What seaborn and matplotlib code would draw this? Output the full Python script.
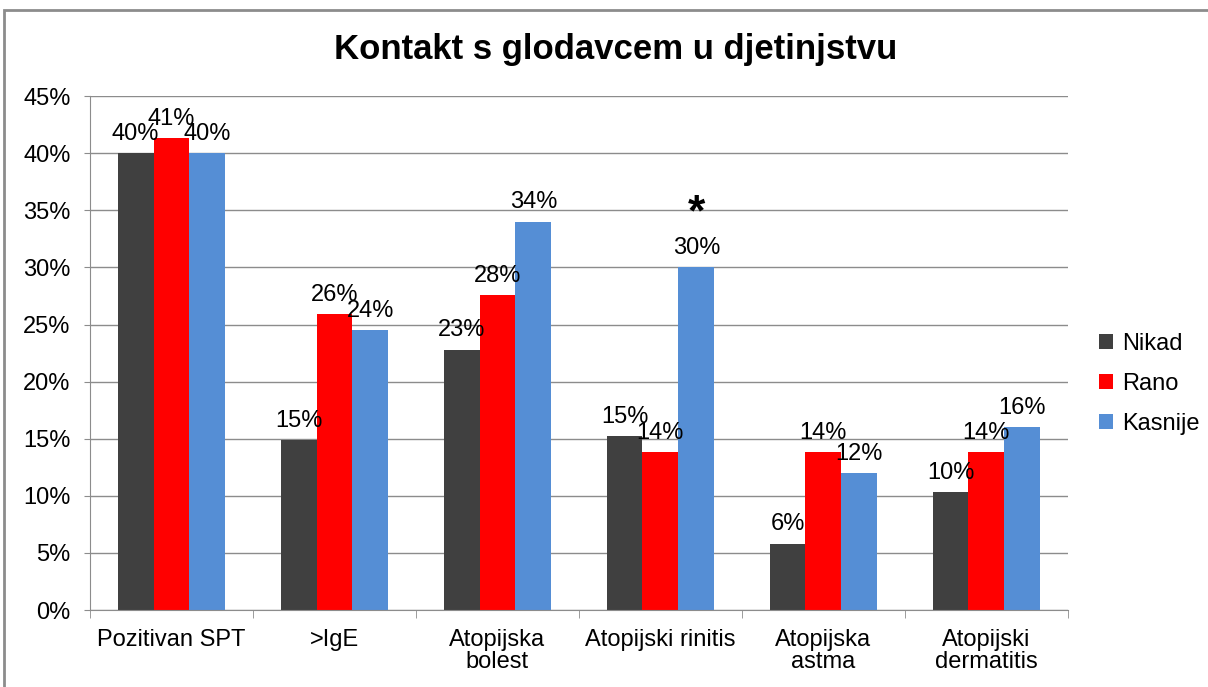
import pandas as pd
import numpy as np
import matplotlib.pyplot as plt
import seaborn as sns
from matplotlib.patches import Rectangle

# data (percent)
categories = ['Pozitivan SPT', '>IgE', 'Atopijska\nbolest', 'Atopijski rinitis',
              'Atopijska\nastma', 'Atopijski\ndermatitis']
groups = ['Nikad', 'Rano', 'Kasnije']
nikad = [40.0, 14.9, 22.8, 15.2, 5.8, 10.3]
rano = [41.3, 25.9, 27.6, 13.8, 13.8, 13.8]
kasnije = [40.0, 24.5, 34.0, 30.0, 12.0, 16.0]
colors = ['#404040', '#FF0000', '#558ED5']
star_category = 'Atopijski rinitis'

df = pd.DataFrame({
    'Kategorija': categories * 3,
    'Grupa': np.repeat(groups, len(categories)),
    'Vrijednost': nikad + rano + kasnije,
})

sns.set_style('white')
plt.rcParams['font.family'] = ['Liberation Sans', 'DejaVu Sans']
plt.rcParams['text.color'] = 'black'
plt.rcParams['xtick.color'] = 'black'
plt.rcParams['ytick.color'] = 'black'

fig = plt.figure(figsize=(12.08, 6.87), dpi=100)
ax = fig.add_axes([0.0745, 0.112, 0.8095, 0.748])

sns.barplot(data=df, x='Kategorija', y='Vrijednost', hue='Grupa',
            hue_order=groups, palette=colors, width=0.66, ax=ax,
            saturation=1, errorbar=None, legend=True, linewidth=0)

for cont in ax.containers:
    ax.bar_label(cont, fmt='%.0f%%', fontsize=17, padding=6)

# asterisk above the Kasnije bar of rinitis
star_idx = categories.index(star_category)
star_bar = ax.containers[2][star_idx]
ax.text(star_bar.get_x() + star_bar.get_width() / 2, star_bar.get_height() + 4.7,
        '*', ha='center', va='center', fontsize=32, fontweight='bold')

ax.set_ylim(0, 45)
ax.set_yticks(np.arange(0, 46, 5))
ax.set_yticklabels([f'{v}%' for v in range(0, 46, 5)], fontsize=17)
ax.set_xlim(-0.5, len(categories) - 0.5)
ax.set_xticks(range(len(categories)))
ax.set_xticklabels(categories, fontsize=17, linespacing=1.0)
ax.set_xlabel('')
ax.set_ylabel('')
ax.yaxis.grid(True, color='#8c8c8c', linewidth=1)
ax.set_axisbelow(True)
for s in ['top', 'right']:
    ax.spines[s].set_visible(False)
for s in ['left', 'bottom']:
    ax.spines[s].set_color('#8c8c8c')
ax.tick_params(axis='y', which='major', left=True, length=4, color='#8c8c8c', pad=10)
ax.tick_params(axis='x', which='major', bottom=False, pad=10)
ax.set_xticks(np.arange(-0.5, len(categories), 1), minor=True)
ax.tick_params(axis='x', which='minor', bottom=True, length=6, color='#8c8c8c')

fig.suptitle('Kontakt s glodavcem u djetinjstvu', x=0.51, y=0.952,
             fontsize=25, fontweight='bold')

leg = ax.legend(loc='center left', bbox_to_anchor=(1.01, 0.44), frameon=False,
                fontsize=17, handlelength=0.6, handleheight=0.6,
                labelspacing=0.75, handletextpad=0.4)

# outer frame
fig.patches.append(Rectangle((0.003, -0.01), 1.2, 0.995, transform=fig.transFigure,
                             fill=False, edgecolor='#8c8c8c', linewidth=2))

fig.savefig('out.png', dpi=100)
